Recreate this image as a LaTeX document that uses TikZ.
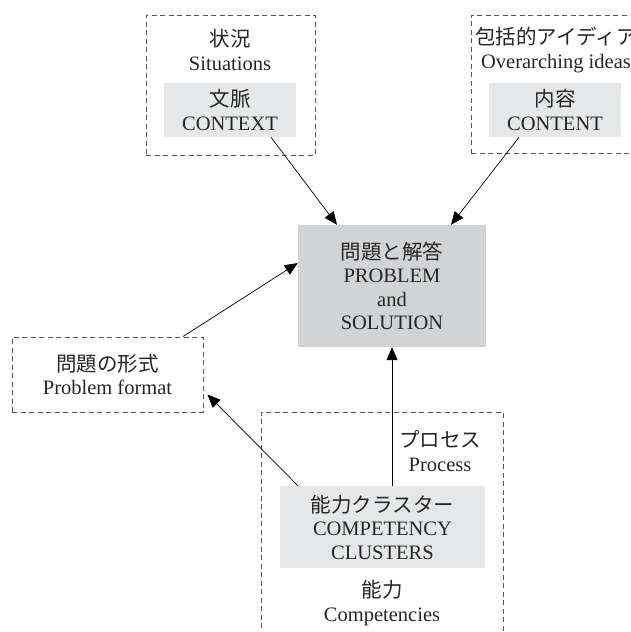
\documentclass[tikz,border=0pt]{standalone}
\usepackage{fontspec}
\setmainfont{Liberation Serif}
\newfontfamily\jp{Noto Sans CJK JP}
\usetikzlibrary{arrows.meta}
\definecolor{lightbox}{HTML}{E6E7E8}
\definecolor{probbox}{HTML}{D2D3D5}
\definecolor{dashcol}{HTML}{555555}
\tikzset{
  txt/.style={font=\fontsize{20.5}{23.5}\selectfont, align=center, inner sep=0pt, text=black!85},
  dashbox/.style={draw=dashcol, line width=0.9pt, dash pattern=on 5pt off 3.5pt},
  graybox/.style={fill=lightbox, draw=none, txt},
  conn/.style={draw=black, line width=0.7pt, -{Triangle[length=13pt,width=11pt]}},
}
\begin{document}
\begin{tikzpicture}[x=1pt,y=-1pt]
\clip (0,0) rectangle (630,632);
\fill[white] (0,0) rectangle (630,632);
% outer dashed boxes
\node[dashbox, minimum width=169pt, minimum height=140pt, inner sep=0pt] (sit) at (230.5,85) {};
\node[dashbox, minimum width=200pt, minimum height=138pt, inner sep=0pt, anchor=north west] (ovr) at (471,15) {};
\node[dashbox, minimum width=242pt, minimum height=240pt, inner sep=0pt, anchor=north west] (cmp) at (261,412) {};
% labels in outer boxes
\node[txt] (sitlab) at (230,50) {{\jp 状況}\\Situations};
\node[txt] (ovrlab) at (556,50) {{\jp 包括的アイディア}\\Overarching ideas};
\node[txt] (proclab) at (440,451) {{\jp プロセス}\\Process};
\node[txt] (cmplab) at (382,603) {{\jp 能力}\\Competencies};
% inner boxes
\node[graybox, minimum width=132pt, minimum height=54pt] (ctx) at (230,110) {{\jp 文脈}\\CONTEXT};
\node[graybox, minimum width=132pt, minimum height=54pt] (cnt) at (555,110) {{\jp 内容}\\CONTENT};
\node[fill=probbox, txt, minimum width=188pt, minimum height=122pt] (prob) at (392,286) {{\jp 問題と解答}\\PROBLEM\\and\\SOLUTION};
\node[dashbox, txt, minimum width=191pt, minimum height=75pt] (pf) at (107.5,374.5) {{\jp 問題の形式}\\Problem format};
\node[graybox, minimum width=205pt, minimum height=82pt] (cc) at (382.5,527) {{\jp 能力クラスター}\\COMPETENCY\\CLUSTERS};
% connectors
\draw[conn] ([xshift=41pt]ctx.south) -- ([xshift=-55pt]prob.north);
\draw[conn] ([xshift=-36pt]cnt.south) -- ([xshift=59pt]prob.north);
\draw[conn] ([xshift=75.5pt]pf.north) -- ([yshift=23pt]prob.west);
\draw[conn] ([xshift=-84.5pt]cc.north) -- ([xshift=4pt,yshift=-20pt]pf.east);
\draw[conn] ([xshift=9.5pt]cc.north) -- (prob.south);
\end{tikzpicture}
\end{document}
